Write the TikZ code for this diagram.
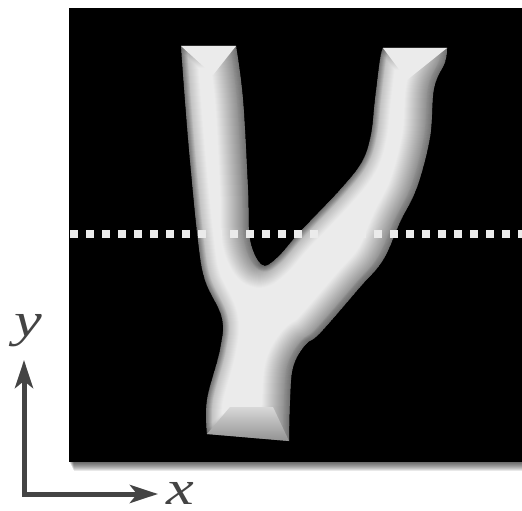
\documentclass[tikz,border=0pt]{standalone}
\usepackage{fontspec}
\setmainfont{Liberation Serif}
\usetikzlibrary{arrows.meta,positioning}
\definecolor{axisgray}{HTML}{444444}
\definecolor{bodygray}{HTML}{EBEBEB}
\newcommand{\branchshape}{(181,46) -- (236,46) -- plot[smooth,tension=.6] coordinates {(236,46) (243,100) (248,190) (250,240) (262,265) (277,258) (300,232) (340,190) (362,162) (371,135) (375,100) (380,60) (383,48)} -- (447,48) -- plot[smooth,tension=.6] coordinates {(447,48) (445,62) (434,88) (430,137) (417,187) (400,222) (383,260) (360,287) (320,333) (305,345) (293,367) (290,400) (289,441)} -- (207,434) -- plot[smooth,tension=.6] coordinates {(207,434) (207,400) (220,350) (222,318) (205,280) (198,240) (190,160) (185,100) (181,46)} -- cycle}
\begin{document}
\begin{tikzpicture}[x=1pt,y=-1pt,>={Stealth[inset=7pt,length=28pt,width=18pt]},
axis/.style={draw=axisgray,line width=5pt,line cap=rect},
axislabel/.style={text=axisgray,font=\fontsize{48}{48}\selectfont\itshape,inner sep=0pt,xscale=1.3},
facet/.style={fill=bodygray},
dots/.style={draw=bodygray,line width=8pt,dash pattern=on 8pt off 8pt}]
\useasboundingbox (0,0) rectangle (522,511);
\foreach \i in {1,...,9}
  \fill[black,opacity=.09] (69+\i/2,462) rectangle (522,462+\i);
\fill[black] (69,8) rectangle (522,462);
\begin{scope}
\clip \branchshape;
\fill[bodygray] (170,40) rectangle (460,450);
\foreach \w in {1,...,44}
  \draw[xshift=-6pt,black,opacity=.006,line width=\w pt,line join=round] \branchshape;
\foreach \w in {1,...,12}
  \draw[black,opacity=.028,line width=\w pt,line join=round] \branchshape;
\fill[facet] (181,46) -- (236,46) -- (213,75) -- cycle;
\fill[facet] (383,48) -- (447,48) -- (407,80) -- cycle;
\shade[top color=bodygray!92!black,bottom color=bodygray!62!black] (207,434) -- (230,407) -- (273,407) -- (289,441) -- cycle;
\end{scope}
\draw[dots] (70,234) -- (522,234);
\coordinate (origin) at (24,492);
\coordinate (ytip) at (24,360);
\coordinate (xtip) at (158,494);
\draw[axis,->] (origin) -- (ytip);
\draw[axis,->] (origin|-xtip) -- (xtip);
\node[axislabel] (ylabel) at (28,331) {y};
\node[axislabel] (xlabel) at (180,493) {x};
\end{tikzpicture}
\end{document}
